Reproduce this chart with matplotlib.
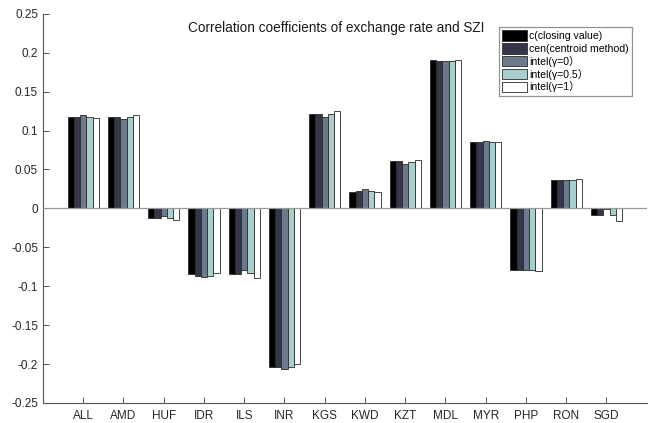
import matplotlib
matplotlib.use("Agg")
import matplotlib.pyplot as plt
import numpy as np

plt.rcParams['font.family'] = ['Liberation Sans', 'Noto Sans CJK SC', 'DejaVu Sans']

currencies = ["ALL", "AMD", "HUF", "IDR", "ILS", "INR", "KGS", "KWD", "KZT",
              "MDL", "MYR", "PHP", "RON", "SGD"]

closing = [0.117, 0.117, -0.0128, -0.0848, -0.0848, -0.2038, 0.1216, 0.021,
           0.0603, 0.1905, 0.0858, -0.0792, 0.0366, -0.0086]
centroid = [0.118, 0.117, -0.0128, -0.0869, -0.0839, -0.2033, 0.1207, 0.023,
            0.0603, 0.1897, 0.0858, -0.0792, 0.0366, -0.009]
intel_g0 = [0.1205, 0.115, -0.0098, -0.0878, -0.079, -0.2068, 0.117, 0.0246,
            0.057, 0.1897, 0.0866, -0.0792, 0.0366, -0.0012]
intel_g05 = [0.1175, 0.117, -0.012, -0.0865, -0.0835, -0.2038, 0.121, 0.0228,
             0.060, 0.1897, 0.0858, -0.0792, 0.0366, -0.0080]
intel_g1 = [0.1162, 0.120, -0.0146, -0.0835, -0.0895, -0.2003, 0.125, 0.021,
            0.0625, 0.1905, 0.0858, -0.080, 0.0375, -0.0164]

series = [closing, centroid, intel_g0, intel_g05, intel_g1]
labels = ["c(closing value)", "cen(centroid method)", "intel(γ=0）",
          "intel(γ=0.5）", "intel(γ=1）"]
colors = ["#000000", "#35364a", "#6b7a8c", "#a9cfcc", "#ffffff"]

yticks = [-0.25, -0.2, -0.15, -0.1, -0.05, 0, 0.05, 0.1, 0.15, 0.2, 0.25]
ytick_labels = ["-0.25", "-0.2", "-0.15", "-0.1", "-0.05", "0", "0.05",
                "0.1", "0.15", "0.2", "0.25"]

fig = plt.figure(figsize=(6.5, 4.23), dpi=100)
ax = fig.add_axes([0.066, 0.0473, 0.929, 0.920])

x = np.arange(1, len(currencies) + 1)
width = 0.155
for i, (vals, lab, col) in enumerate(zip(series, labels, colors)):
    ax.bar(x + (i - 2) * width, vals, width, color=col, edgecolor="#2a2a2a",
           linewidth=0.6, label=lab, zorder=2)

ax.axhline(0, color="#9a9a9a", linewidth=0.9, zorder=3)

ax.set_xlim(0, 15)
ax.set_ylim(-0.25, 0.25)
ax.set_xticks(x)
ax.set_xticklabels(currencies)
ax.set_yticks(yticks)
ax.set_yticklabels(ytick_labels)

for side in ("top", "right"):
    ax.spines[side].set_visible(False)
for side in ("left", "bottom"):
    ax.spines[side].set_color("#555555")
    ax.spines[side].set_linewidth(0.8)

ax.tick_params(direction="in", length=4, width=0.7, colors="#555555",
               labelcolor="#262626", labelsize=8.5)
ax.tick_params(axis="x", pad=5)

ax.text(0.485, 0.964, "Correlation coefficients of exchange rate and SZI",
        transform=ax.transAxes, ha="center", va="center", fontsize=9.8,
        color="#1a1a1a")

leg = ax.legend(loc="upper right", bbox_to_anchor=(0.975, 0.967),
                fontsize=7.6, frameon=True, fancybox=False,
                handlelength=2.4, handleheight=1.2, handletextpad=0.15,
                labelspacing=0.18, borderpad=0.3, borderaxespad=0.0)
leg.get_frame().set_edgecolor("#777777")
leg.get_frame().set_linewidth(0.9)

fig.savefig("out.png", dpi=100)
